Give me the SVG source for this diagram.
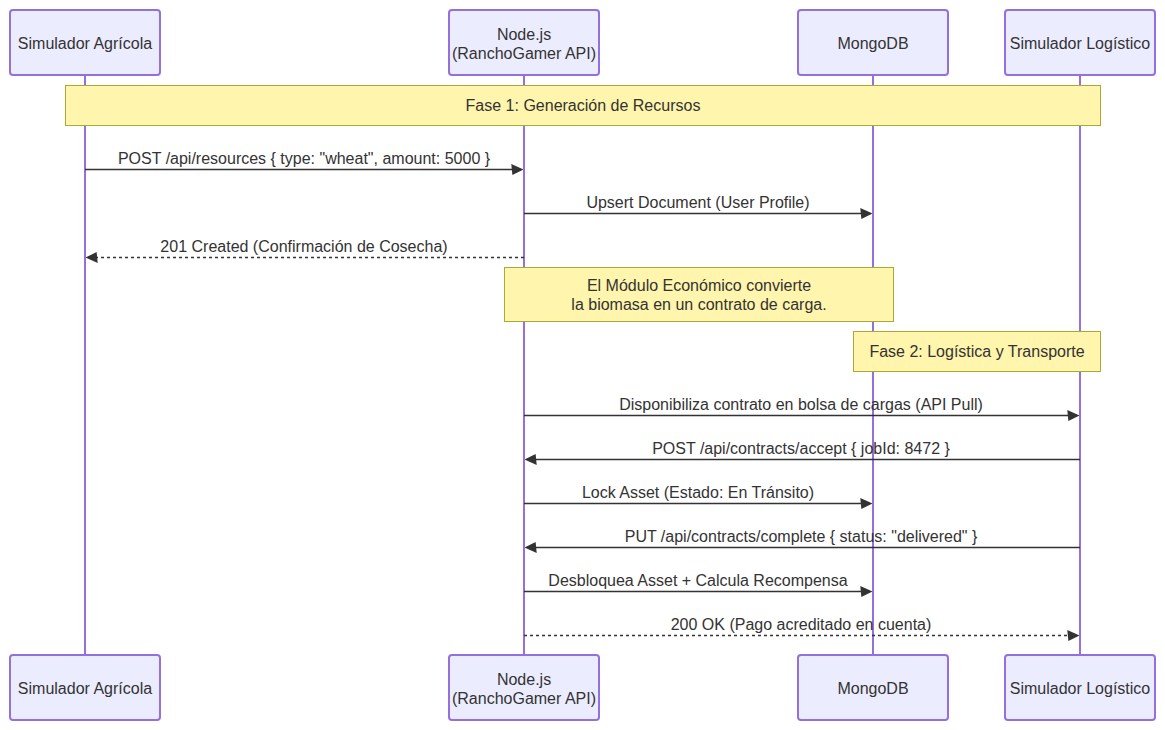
<svg xmlns="http://www.w3.org/2000/svg" width="1165" height="730" viewBox="0 0 1165 730">
<style>
text{font-family:"Liberation Sans",Arial,sans-serif;font-size:16px;fill:#333;text-anchor:middle;dominant-baseline:central}
.actor{fill:#ECECFF;stroke:#9370DB;stroke-width:2}
.life{stroke:#9370DB;stroke-width:2}
.note{fill:#fff5ad;stroke:#aaaa33;stroke-width:1}
.msg{stroke:#333;stroke-width:1.5;fill:none;marker-end:url(#ah)}
.dash{stroke-dasharray:3,3}
</style>
<defs>
<marker id="ah" markerUnits="userSpaceOnUse" markerWidth="12" markerHeight="12" refX="7.9" refY="5" orient="auto-start-reverse" viewBox="-1 0 11 10"><path d="M -1 0 L 10 5 L 0 10 z" fill="#333"/></marker>
</defs>
<g id="lifelines">
<line class="life" x1="85" y1="75" x2="85" y2="655"/>
<line class="life" x1="524" y1="75" x2="524" y2="655"/>
<line class="life" x1="873" y1="75" x2="873" y2="655"/>
<line class="life" x1="1080" y1="75" x2="1080" y2="655"/>
</g>
<g id="actor-agricola-top"><rect class="actor" x="10" y="10" width="150" height="65" rx="3"/><text x="85" y="43">Simulador Agrícola</text></g>
<g id="actor-node-top"><rect class="actor" x="449" y="10" width="150" height="65" rx="3"/><text x="524" y="34">Node.js</text><text x="524" y="53">(RanchoGamer API)</text></g>
<g id="actor-mongo-top"><rect class="actor" x="798" y="10" width="150" height="65" rx="3"/><text x="873" y="43">MongoDB</text></g>
<g id="actor-logistico-top"><rect class="actor" x="1005" y="10" width="150" height="65" rx="3"/><text x="1080" y="43">Simulador Logístico</text></g>
<g id="actor-agricola-bottom"><rect class="actor" x="10" y="655" width="150" height="65" rx="3"/><text x="85" y="688">Simulador Agrícola</text></g>
<g id="actor-node-bottom"><rect class="actor" x="449" y="655" width="150" height="65" rx="3"/><text x="524" y="679">Node.js</text><text x="524" y="698">(RanchoGamer API)</text></g>
<g id="actor-mongo-bottom"><rect class="actor" x="798" y="655" width="150" height="65" rx="3"/><text x="873" y="688">MongoDB</text></g>
<g id="actor-logistico-bottom"><rect class="actor" x="1005" y="655" width="150" height="65" rx="3"/><text x="1080" y="688">Simulador Logístico</text></g>
<g id="note-fase1"><rect class="note" x="65.5" y="85.5" width="1035" height="40"/><text x="583" y="105.5">Fase 1: Generación de Recursos</text></g>
<g id="note-modulo"><rect class="note" x="504.5" y="267.5" width="389" height="54"/><text x="699" y="285">El Módulo Económico convierte</text><text x="699" y="304">la biomasa en un contrato de carga.</text></g>
<g id="note-fase2"><rect class="note" x="853.5" y="331.5" width="247" height="40"/><text x="977" y="351.5">Fase 2: Logística y Transporte</text></g>
<g id="connectors">
<line class="msg" x1="85" y1="169.5" x2="521" y2="169.5"/>
<text x="304" y="158">POST /api/resources { type: "wheat", amount: 5000 }</text>
<line class="msg" x1="524" y1="213.5" x2="870" y2="213.5"/>
<text x="698" y="202">Upsert Document (User Profile)</text>
<line class="msg dash" x1="524" y1="257.5" x2="88" y2="257.5"/>
<text x="304" y="246">201 Created (Confirmación de Cosecha)</text>
<line class="msg" x1="524" y1="415.5" x2="1077" y2="415.5"/>
<text x="801" y="404">Disponibiliza contrato en bolsa de cargas (API Pull)</text>
<line class="msg" x1="1080" y1="459.5" x2="527" y2="459.5"/>
<text x="801" y="448">POST /api/contracts/accept { jobId: 8472 }</text>
<line class="msg" x1="524" y1="503.5" x2="870" y2="503.5"/>
<text x="698" y="492">Lock Asset (Estado: En Tránsito)</text>
<line class="msg" x1="1080" y1="547.5" x2="527" y2="547.5"/>
<text x="801" y="536">PUT /api/contracts/complete { status: "delivered" }</text>
<line class="msg" x1="524" y1="591.5" x2="870" y2="591.5"/>
<text x="698" y="580">Desbloquea Asset + Calcula Recompensa</text>
<line class="msg dash" x1="524" y1="635.5" x2="1077" y2="635.5"/>
<text x="801" y="624">200 OK (Pago acreditado en cuenta)</text>
</g>
</svg>
